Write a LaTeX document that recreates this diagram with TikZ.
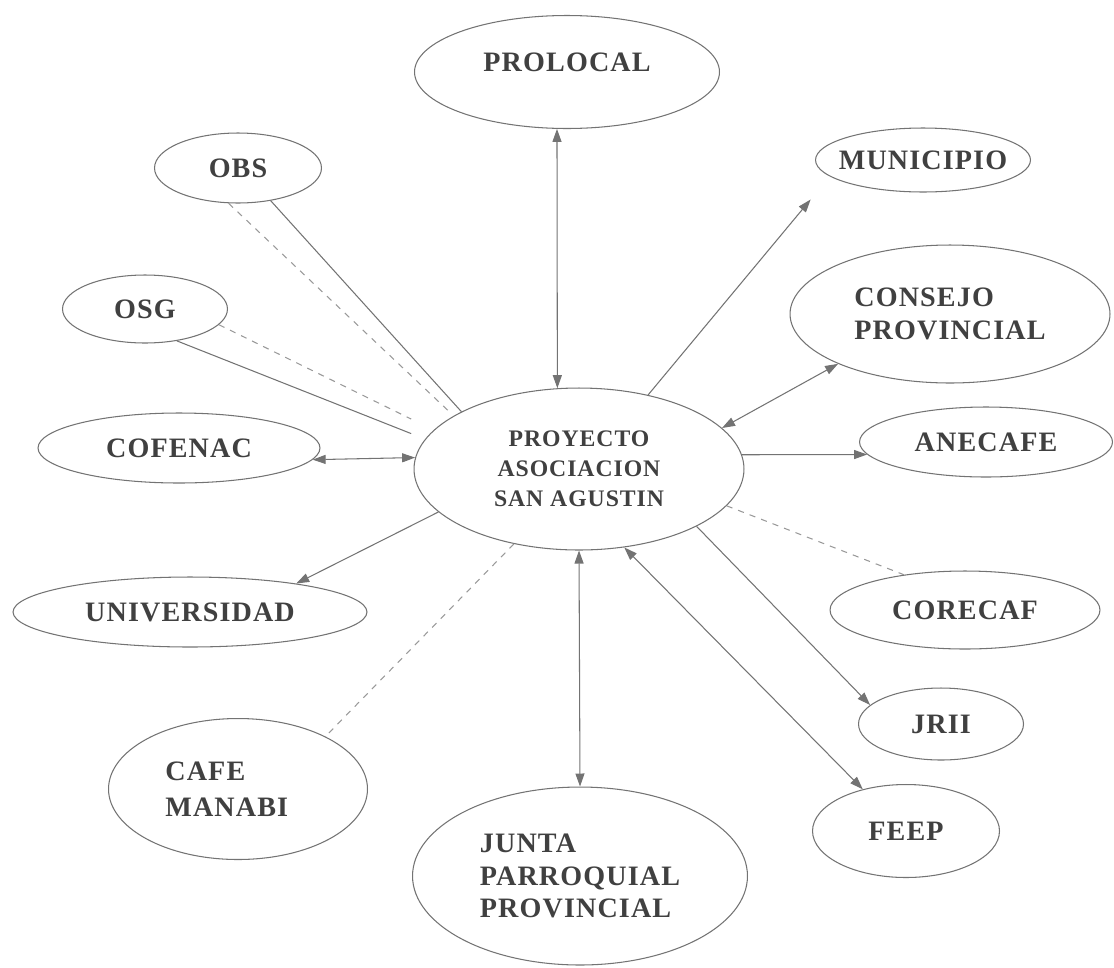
\documentclass[tikz,border=0pt]{standalone}
\usepackage{fontspec}
\setmainfont{Liberation Serif}[LetterSpace=4]
\usetikzlibrary{arrows.meta,shapes.geometric}

\begin{document}
\begin{tikzpicture}[x=0.02cm,y=-0.02cm,
    ent/.style={ellipse,draw=black!55,line width=0.6pt,inner sep=0pt,text=black!75,font=\fontsize{16}{18.5}\selectfont\bfseries},
    lnk/.style={draw=black!55,line width=0.6pt},
    dsh/.style={draw=black!40,line width=0.6pt,dash pattern=on 3.5pt off 3.5pt},
    >={Triangle[length=2.6mm,width=1.8mm]}]
        \useasboundingbox (0,0) rectangle (1114,967);
        \node[ent,minimum width=6.6cm,minimum height=3.24cm,align=center,font=\fontsize{13.5}{17}\selectfont\bfseries] (pry) at (579,469) {PROYECTO\\ASOCIACION\\SAN AGUSTIN};
        \node[ent,minimum width=6.1cm,minimum height=2.26cm] (pro) at (567,72) {\raisebox{0.4cm}{PROLOCAL}};
        \node[ent,minimum width=4.3cm,minimum height=1.28cm,inner xsep=-5pt] (mun) at (923,160) {MUNICIPIO};
        \node[ent,minimum width=3.34cm,minimum height=1.4cm] (obs) at (238,168) {OBS};
        \node[ent,minimum width=3.3cm,minimum height=1.36cm] (osg) at (145,309) {OSG};
        \node[ent,minimum width=6.4cm,minimum height=2.76cm,align=left] (con) at (950,314) {CONSEJO\\PROVINCIAL};
        \node[ent,minimum width=5.64cm,minimum height=1.4cm] (cof) at (179,448) {COFENAC};
        \node[ent,minimum width=5.06cm,minimum height=1.4cm] (ane) at (986,442) {ANECAFE};
        \node[ent,minimum width=7.08cm,minimum height=1.4cm] (uni) at (190,612) {UNIVERSIDAD};
        \node[ent,minimum width=5.4cm,minimum height=1.56cm] (cor) at (965,610) {CORECAF};
        \node[ent,minimum width=5.18cm,minimum height=2.82cm,align=left,font=\fontsize{16}{20.5}\selectfont\bfseries] (caf) at (238,789) {CAFE\\MANABI\hspace*{0.45cm}};
        \node[ent,minimum width=6.7cm,minimum height=3.56cm,align=left] (jun) at (580,876) {JUNTA\\PARROQUIAL\\PROVINCIAL};
        \node[ent,minimum width=3.3cm,minimum height=1.44cm] (jri) at (941,724) {JRII};
        \node[ent,minimum width=3.74cm,minimum height=1.86cm] (fee) at (906,831) {FEEP};

        \draw[lnk,<->] (pro.-100) -- (pry.105);
        \draw[lnk,->,shorten >=0.6cm] (pry.47) -- (mun.190);
        \draw[lnk,<->] (pry.16) -- (con.204);
        \draw[lnk,->] (pry.5) -- (ane.186);
        \draw[lnk,<->] (cof.-5) -- (pry.176);
        \draw[lnk,->] (pry.197) -- (uni.15);
        \draw[dsh] (pry.229) -- (caf.31);
        \draw[lnk,<->] (pry.-90) -- (jun.90);
        \draw[lnk,<->] (pry.-60) -- (fee.136);
        \draw[lnk,->] (pry.-26) -- (jri.165);
        \draw[dsh] (pry.-14) -- (cor.150);
        \draw[lnk] (obs.-45) -- (pry.154);
        \draw[dsh,shorten >=0.15cm] (obs.-105) -- (pry.157);
        \draw[lnk,shorten >=0.3cm] (osg.-45) -- (pry.169);
        \draw[dsh,shorten >=0.5cm] (osg.-12) -- (pry.165);
    \end{tikzpicture}
\end{document}
